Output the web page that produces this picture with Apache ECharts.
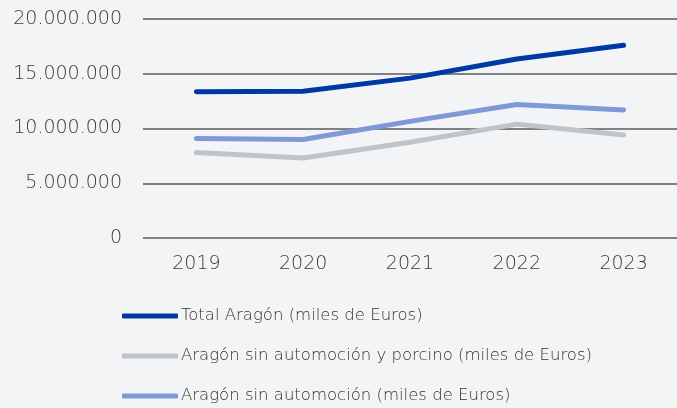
<!DOCTYPE html>
<html>
<head>
<meta charset="utf-8">
<script src="https://cdn.jsdelivr.net/npm/echarts@6/dist/echarts.min.js"></script>
<style>
  html, body { margin: 0; padding: 0; background: #f3f4f6; }
  #chart { width: 677px; height: 408px; }
</style>
</head>
<body>
<div id="chart"></div>
<script>
// years on the x axis
const years = ['2019', '2020', '2021', '2022', '2023'];

// miles de euros
const totalAragon = [13350000, 13400000, 14600000, 16350000, 17600000];
const sinAutoPorcino = [7800000, 7300000, 8750000, 10400000, 9400000];
const sinAuto = [9080000, 9000000, 10650000, 12200000, 11700000];

const names = [
  'Total Aragón (miles de Euros)',
  'Aragón sin automoción y porcino (miles de Euros)',
  'Aragón sin automoción (miles de Euros)'
];
const colors = ['#0039a6', '#bec4c9', '#7f98d6'];

const font = 'DejaVu Sans';
const fmt = v => String(v).replace(/\B(?=(\d{3})+(?!\d))/g, '.');

const chart = echarts.init(document.getElementById('chart'));

const mkSeries = (name, data, color) => ({
  name: name,
  type: 'line',
  data: data,
  symbol: 'none',
  color: color,
  lineStyle: { width: 5, color: color, cap: 'round', join: 'round' },
  emphasis: { disabled: true }
});

chart.setOption({
  backgroundColor: '#f3f4f6',
  animation: false,
  grid: { left: 143, top: 19, width: 541, height: 219 },
  xAxis: {
    type: 'category',
    data: years,
    boundaryGap: true,
    axisLine: { show: false },
    axisTick: { show: false },
    axisLabel: { color: '#3a3a3a', fontFamily: font, fontWeight: 200, fontSize: 19, margin: 17 }
  },
  yAxis: {
    type: 'value',
    min: 0,
    max: 20000000,
    interval: 5000000,
    axisLine: { show: false },
    axisTick: { show: false },
    splitLine: { lineStyle: { color: '#5a5a5a', width: 1.5 } },
    axisLabel: {
      color: '#3a3a3a', fontFamily: font, fontWeight: 200, fontSize: 19, margin: 21,
      formatter: fmt
    }
  },
  legend: {
    orient: 'vertical',
    left: 122,
    top: 306,
    height: 102,
    padding: 0,
    itemWidth: 56,
    itemHeight: 5,
    itemGap: 20,
    icon: 'roundRect',
    selectedMode: false,
    textStyle: { color: '#333', fontFamily: font, fontWeight: 200, fontSize: 16.5, lineHeight: 20, padding: [0, 0, 0, -2] },
    data: names
  },
  series: [
    mkSeries(names[0], totalAragon, colors[0]),
    mkSeries(names[1], sinAutoPorcino, colors[1]),
    mkSeries(names[2], sinAuto, colors[2])
  ]
});
</script>
</body>
</html>
